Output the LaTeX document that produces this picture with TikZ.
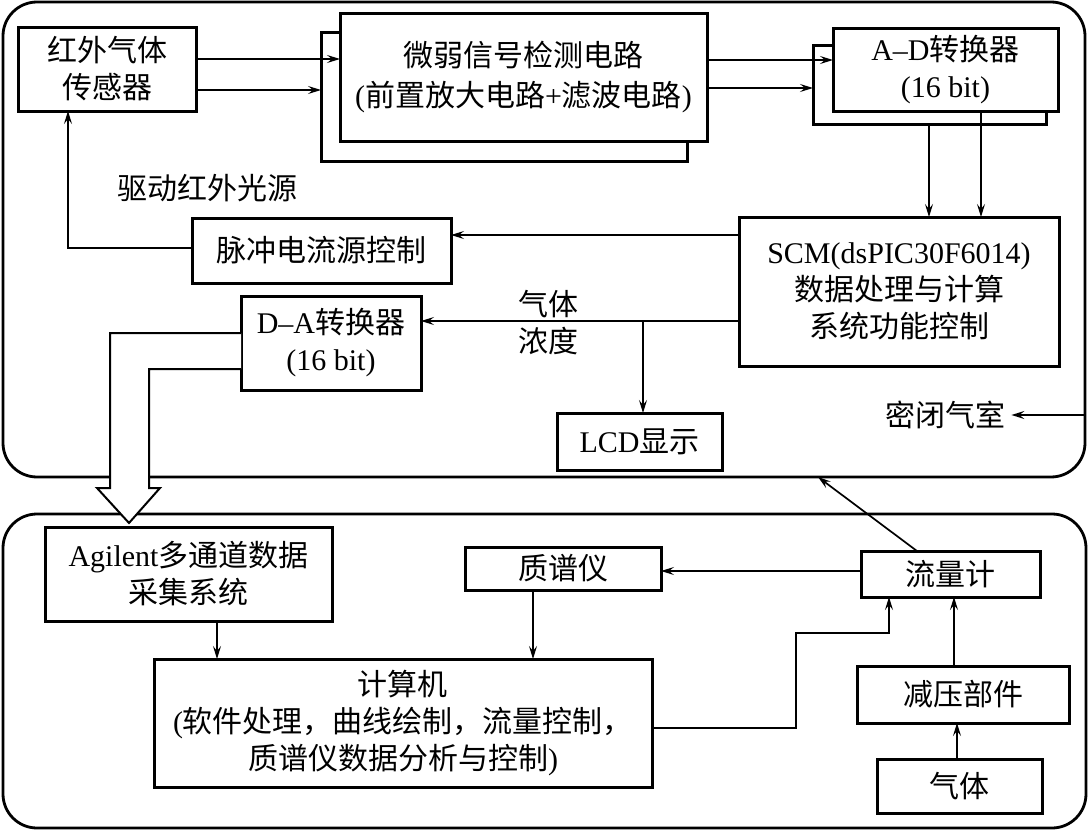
\documentclass[tikz,border=0pt]{standalone}
\usepackage{fontspec}
\setmainfont{Liberation Serif}
\newfontfamily\cjk{Noto Sans CJK SC}
\usetikzlibrary{arrows.meta,calc}
\newcommand\zh[1]{{\cjk #1}}
\begin{document}
\begin{tikzpicture}[x=0.5pt,y=-0.5pt,
  font=\fontsize{15pt}{18.5pt}\selectfont,
  rect/.style n args={4}{at={({(#1+#3)/2},{(#2+#4)/2})},
     minimum width={(#3-#1)*0.5pt}, minimum height={(#4-#2)*0.5pt}},
  box/.style={draw,line width=1.5pt,inner sep=0pt,outer sep=0pt,align=center,fill=white},
  cont/.style={draw,line width=1.4pt,rounded corners=17pt,inner sep=0pt,outer sep=0pt},
  arr/.style={line width=0.85pt,-{Stealth[length=6.5pt,width=4pt,inset=2.5pt]}},
  lbl/.style={inner sep=0pt,align=center}]
\useasboundingbox (0,0) rectangle (1089,830);

% helper coordinates
\foreach \v in {59,60,88,90,235,248,321,333,369,571,633,728}{\coordinate (y\v) at (0,\v);}
\foreach \v in {68,217,533,796,818,889,917,929,954,957,981}{\coordinate (x\v) at (\v,0);}

% containers
\node[cont, rect={3}{2}{1085}{477}] (topbox) {};
\node[cont, rect={3}{514}{1086}{828}] (botbox) {};

% D-A box and hollow arrow
\node[box, rect={241}{296}{421}{390}] (da) {D–A\zh{转换器}\\(16 bit)};
\draw[line width=1pt, fill=white] (da.west |- y333) -- (110,333) -- (110,488) -- (97,488) -- (129,523) -- (160,488) -- (149,488) -- (149,369) -- (da.west |- y369);

% top boxes
\node[box, rect={18}{27}{196}{111}] (sensor) {\zh{红外气体}\\\zh{传感器}};
\node[box, rect={321}{32}{687}{161}] (wb) {};
\node[box, rect={340}{13}{707}{141}, font=\fontsize{15pt}{20pt}\selectfont] (wf) {\zh{微弱信号检测电路}\\(\zh{前置放大电路}+\zh{滤波电路})};
\node[box, rect={813}{45}{1046}{124}] (adb) {};
\node[box, rect={833}{28}{1058}{111}] (adf) {A–D\zh{转换器}\\(16 bit)};
\node[box, rect={739}{217}{1059}{366}] (scm) {SCM(dsPIC30F6014)\\\zh{数据处理与计算}\\\zh{系统功能控制}};
\node[box, rect={192}{218}{451}{283}] (pulse) {\zh{脉冲电流源控制}};
\node[box, rect={557}{413}{722}{470}] (lcd) {LCD\zh{显示}};

% bottom boxes
\node[box, rect={45}{527}{332}{621}] (agilent) {Agilent\zh{多通道数据}\\\zh{采集系统}};
\node[box, rect={154}{659}{652}{787}] (comp) {\zh{计算机}\\(\zh{软件处理，曲线绘制，流量控制，}\\\zh{质谱仪数据分析与控制})};
\node[box, rect={465}{547}{661}{590}] (mass) {\zh{质谱仪}};
\node[box, rect={861}{551}{1040}{597}] (flow) {\zh{流量计}};
\node[box, rect={857}{666}{1069}{723}] (dec) {\zh{减压部件}};
\node[box, rect={877}{759}{1042}{813}] (gas) {\zh{气体}};

% labels
\node[lbl] (drive) at (208,188) {\zh{驱动红外光源}};
\node[lbl] (conc) at (548,323) {\zh{气体}\\\zh{浓度}};
\node[lbl] (seal) at (945,415) {\zh{密闭气室}};

% connectors top
\draw[arr] (sensor.east |- y59) -- (wf.west |- y59);
\draw[arr] (sensor.east |- y90) -- (wb.west |- y90);
\draw[arr] (wf.east |- y60) -- (adf.west |- y60);
\draw[arr] (wf.east |- y88) -- (adb.west |- y88);
\draw[arr] (adb.south -| x929) -- (scm.north -| x929);
\draw[arr] (adf.south -| x981) -- (scm.north -| x981);
\draw[arr] (scm.west |- y235) -- (pulse.east |- y235);
\draw[arr] (pulse.west |- y248) -| (sensor.south -| x68);
\draw[arr] (scm.west |- y321) -- (da.east |- y321);
\coordinate (br) at (643,321);
\draw[arr] (br) -- (lcd.north -| br);
\draw[arr] (topbox.east |- seal) -- ([xshift=3pt]seal.east);

% connectors bottom
\draw[arr] (agilent.south -| x217) -- (comp.north -| x217);
\draw[arr] (mass.south -| x533) -- (comp.north -| x533);
\draw[arr] (flow.west |- y571) -- (mass.east |- y571);
\draw[arr] (flow.north -| x917) -- (topbox.south -| x818);
\draw[arr] (comp.east |- y728) -- (x796 |- y728) -- (x796 |- y633) -- (x889 |- y633) -- (flow.south -| x889);
\draw[arr] (dec.north -| x954) -- (flow.south -| x954);
\draw[arr] (gas.north -| x957) -- (dec.south -| x957);
\end{tikzpicture}
\end{document}
